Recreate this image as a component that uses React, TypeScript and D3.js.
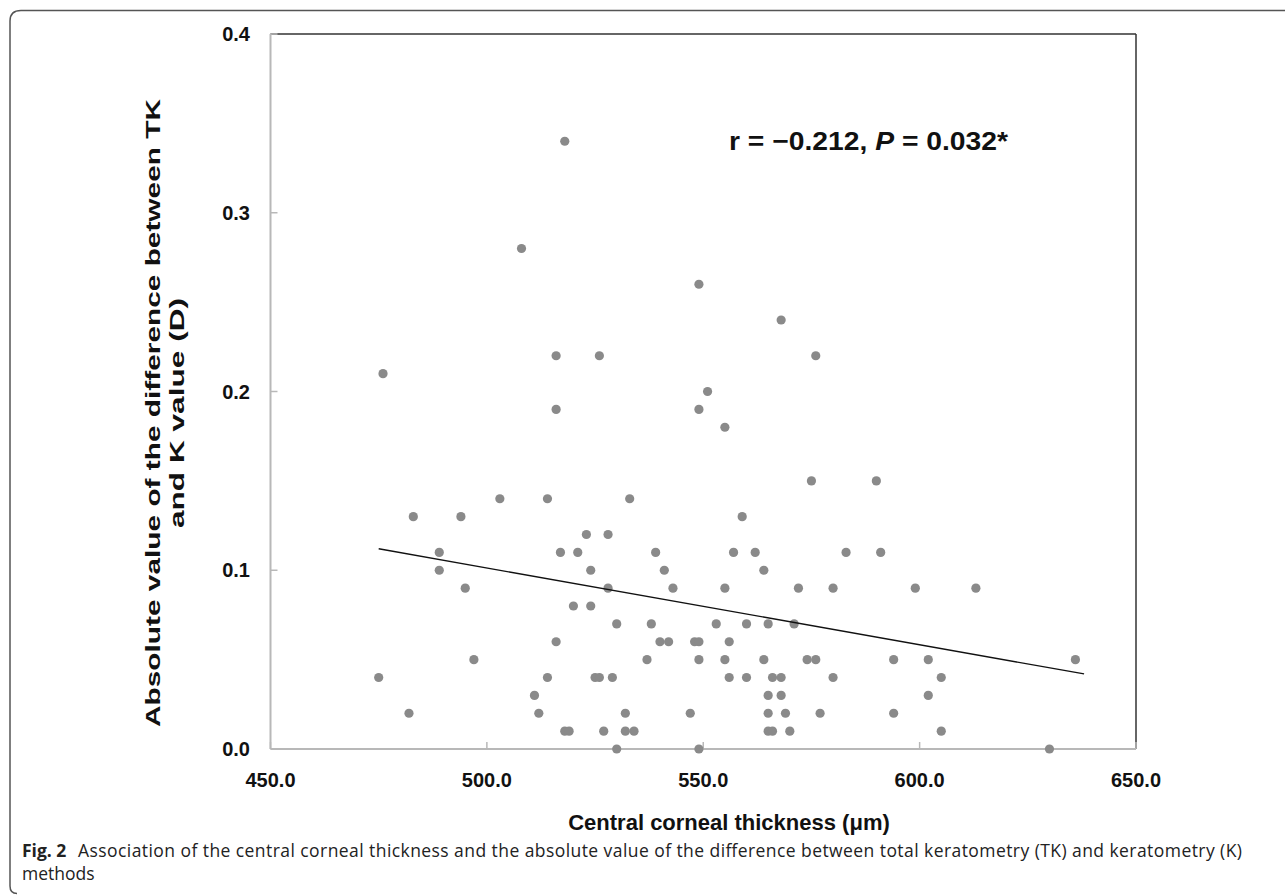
import React from "react";
import * as d3 from "d3";

const thickness = [
  475, 476, 482, 483, 489, 489, 494, 495, 497, 503, 508, 511, 512, 514, 514, 516, 516, 516, 517, 518,
  518, 519, 520, 521, 523, 524, 524, 525, 526, 526, 527, 528, 528, 529, 530, 530, 532, 532, 533, 534,
  537, 538, 539, 540, 541, 542, 543, 547, 548, 549, 549, 549, 549, 549, 551, 553, 555, 555, 555, 556,
  556, 557, 559, 560, 560, 562, 564, 564, 565, 565, 565, 565, 566, 566, 568, 568, 568, 569, 570, 571,
  572, 574, 575, 576, 576, 577, 580, 580, 583, 590, 591, 594, 594, 599, 602, 602, 605, 605, 613, 630,
  636,
];
const absDiff = [
  0.04, 0.21, 0.02, 0.13, 0.11, 0.10, 0.13, 0.09, 0.05, 0.14, 0.28, 0.03, 0.02, 0.14, 0.04, 0.22, 0.19, 0.06, 0.11, 0.34,
  0.01, 0.01, 0.08, 0.11, 0.12, 0.10, 0.08, 0.04, 0.04, 0.22, 0.01, 0.12, 0.09, 0.04, 0.07, 0.00, 0.02, 0.01, 0.14, 0.01,
  0.05, 0.07, 0.11, 0.06, 0.10, 0.06, 0.09, 0.02, 0.06, 0.26, 0.19, 0.06, 0.05, 0.00, 0.20, 0.07, 0.18, 0.09, 0.05, 0.06,
  0.04, 0.11, 0.13, 0.07, 0.04, 0.11, 0.10, 0.05, 0.07, 0.03, 0.02, 0.01, 0.04, 0.01, 0.24, 0.04, 0.03, 0.02, 0.01, 0.07,
  0.09, 0.05, 0.15, 0.22, 0.05, 0.02, 0.09, 0.04, 0.11, 0.15, 0.11, 0.05, 0.02, 0.09, 0.05, 0.03, 0.04, 0.01, 0.09, 0.00,
  0.05,
];
const fitX = [475, 638];
const fitY = [0.112, 0.042];
const xTicks = [450, 500, 550, 600, 650];
const yTicks = [0, 0.1, 0.2, 0.3, 0.4];

const W = 1285;
const H = 896;
const L = 270.5, R = 1136, T = 34, B = 749;

export default function App() {
  const x = d3.scaleLinear().domain([450, 650]).range([L, R]);
  const y = d3.scaleLinear().domain([0, 0.4]).range([B, T]);
  const pts = thickness.map((t, i) => ({ t, v: absDiff[i] }));
  const line = d3.line<number>().x((d, i) => x(fitX[i])).y((d, i) => y(fitY[i]));
  const bold = "'Liberation Sans', Arial, sans-serif";
  const cap = "'Open Sans', 'Noto Sans', sans-serif";
  return (
    <svg width={W} height={H} style={{ position: "absolute", left: 0, top: 0, background: "#fff" }}>
      <rect x={0} y={0} width={W} height={H} fill="#fff" />
      {/* outer frame */}
      <path
        d={`M 17 893.5 Q 10 893.5 10 886 L 10 21 Q 10 10.5 21 10.5 L ${W} 10.5`}
        fill="none"
        stroke="#555"
        strokeWidth={1.5}
      />
      {/* top & right axes */}
      <line x1={L} x2={R} y1={T} y2={T} stroke="#333" strokeWidth={1.5} />
      <line x1={R} x2={R} y1={T} y2={B} stroke="#333" strokeWidth={1.5} />
      {/* left & bottom axes */}
      <line x1={L} x2={L} y1={T} y2={B} stroke="#b8b8b8" strokeWidth={2} />
      <line x1={L} x2={R} y1={B} y2={B} stroke="#b8b8b8" strokeWidth={2} />
      {yTicks.map((v) => (
        <g key={"y" + v}>
          <line x1={L} x2={L + 7} y1={y(v)} y2={y(v)} stroke="#b8b8b8" strokeWidth={1.5} />
          <text x={250} y={y(v)} dy="0.36em" textAnchor="end" fontFamily={bold} fontWeight="bold" fontSize={20} fill="#111">
            {v.toFixed(1)}
          </text>
        </g>
      ))}
      {xTicks.map((v) => (
        <g key={"x" + v}>
          <line x1={x(v)} x2={x(v)} y1={B} y2={B - 7} stroke="#b8b8b8" strokeWidth={1.5} />
          <text x={x(v)} y={780} dy="0.36em" textAnchor="middle" fontFamily={bold} fontWeight="bold" fontSize={20} fill="#111">
            {v.toFixed(1)}
          </text>
        </g>
      ))}
      {pts.map((p, i) => (
        <circle key={i} cx={x(p.t)} cy={y(p.v)} r={4.6} fill="#8a8a8a" />
      ))}
      <path d={line(fitX) || ""} fill="none" stroke="#111" strokeWidth={1.4} />
      <text x={729} y={150} fontFamily={bold} fontWeight="bold" fontSize={26} fill="#111" textLength={279} lengthAdjust="spacingAndGlyphs">
        r = −0.212, <tspan fontStyle="italic">P</tspan> = 0.032*
      </text>
      <text x={729} y={830} textAnchor="middle" fontFamily={bold} fontWeight="bold" fontSize={22} fill="#111">
        Central corneal thickness (μm)
      </text>
      <g transform="translate(160,413) rotate(-90)">
        <text x={-314} y={0} fontFamily={bold} fontWeight="bold" fontSize={21} fill="#111" textLength={628} lengthAdjust="spacingAndGlyphs">
          Absolute value of the difference between TK
        </text>
        <text x={-115} y={24} fontFamily={bold} fontWeight="bold" fontSize={21} fill="#111" textLength={230} lengthAdjust="spacingAndGlyphs">
          and K value (D)
        </text>
      </g>
      <text x={22} y={857} fontFamily={cap} fontSize={17.5} fill="#222">
        <tspan fontWeight="bold">Fig. 2</tspan>
      </text>
      <text x={78} y={857} fontFamily={cap} fontSize={17.5} fill="#222" textLength={1164} lengthAdjust="spacing">
        Association of the central corneal thickness and the absolute value of the difference between total keratometry (TK) and keratometry (K)
      </text>
      <text x={22} y={880} fontFamily={cap} fontSize={17.5} fill="#222">
        methods
      </text>
    </svg>
  );
}
